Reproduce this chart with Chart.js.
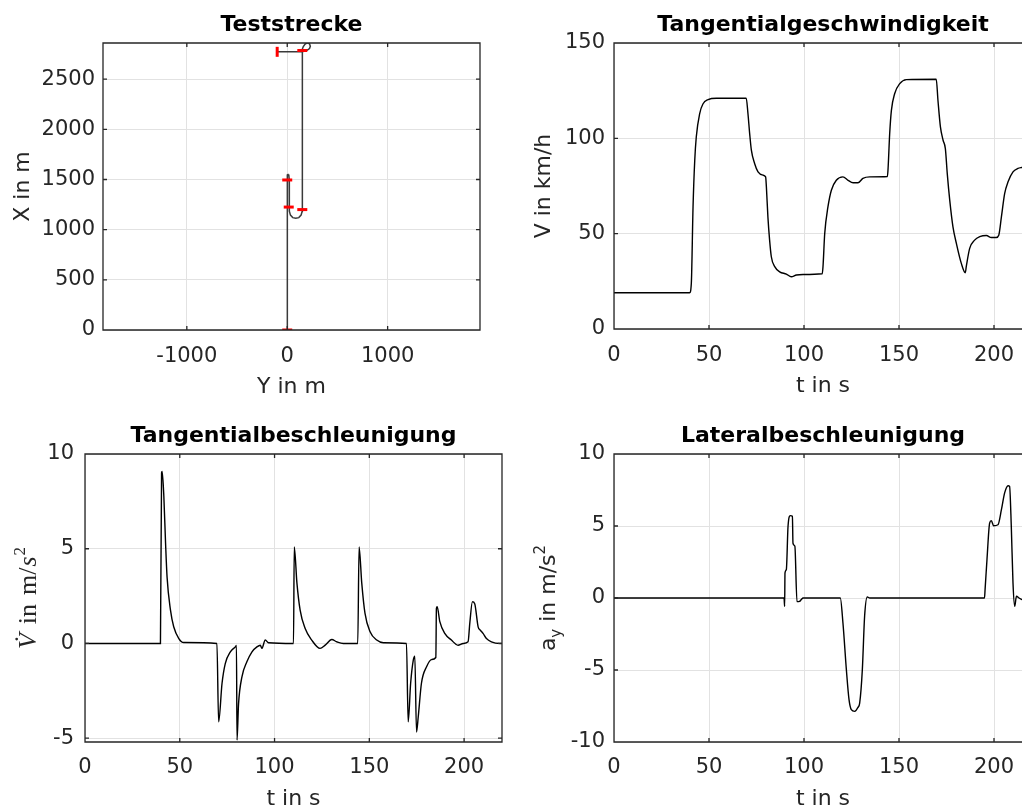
<!DOCTYPE html>
<html>
<head>
<meta charset="utf-8">
<script src="https://cdn.jsdelivr.net/npm/chart.js@4/dist/chart.umd.min.js"></script>
<style>
  html, body { margin: 0; padding: 0; background: #fff; overflow: hidden; }
  #page { position: relative; width: 1022px; height: 812px; overflow: hidden; }
  #page canvas { position: absolute; }
</style>
</head>
<body>
<div id="page">
  <canvas id="trackChart" width="500" height="400" style="left:0;top:0"></canvas>
  <canvas id="speedChart" width="530" height="400" style="left:510px;top:0"></canvas>
  <canvas id="accChart" width="510" height="402" style="left:0;top:410px"></canvas>
  <canvas id="latChart" width="530" height="402" style="left:510px;top:410px"></canvas>
</div>
<script>
// Teststrecke: lateral position Y (horizontal) and longitudinal position X (vertical), in m
const trackY = [0, 0, 2, 8, 16, 20, 20, 22, 32, 55, 85, 115, 138, 148, 150, 150, 152, 160, 178, 200, 222, 230, 222, 200, 175, 150, 100, 0, -100];
const trackX = [0, 1530, 1545, 1550, 1540, 1500, 1230, 1185, 1145, 1120, 1113, 1120, 1145, 1180, 1210, 2770, 2800, 2825, 2850, 2862, 2852, 2828, 2805, 2790, 2780, 2772, 2772, 2772, 2772];
// red section markers along the track
const markerY = [0, 0, 15, 150, 150, -100];
const markerX = [0, 1495, 1225, 1200, 2785, 2772];

const trackYTicks = [-1000, 0, 1000];
const trackXTicks = [0, 500, 1000, 1500, 2000, 2500];
const timeTicks = [0, 50, 100, 150, 200];
const speedTicks = [0, 50, 100, 150];
const accTicks = [-5, 0, 5, 10];
const latTicks = [-10, -5, 0, 5, 10];

// Tangentialgeschwindigkeit in km/h
const speedTime = [0, 39.8, 40.7, 41.6, 42.5, 43.3, 45.1, 46.8, 49.5, 53.9, 69.6, 70.5, 71.4, 72.3, 74, 75.8, 78.4, 79.8, 80.2, 81, 81.9, 82.8, 84.6, 87.2, 90.7, 93.3, 96, 99.5, 109.6, 110, 110.9, 112.6, 114.4, 117, 120.5, 123.2, 125.8, 128.4, 131, 134.6, 143.9, 144.2, 145.1, 146, 147.7, 150.4, 153.9, 169.6, 170.5, 171.8, 173.2, 174.4, 175.4, 176.7, 178.4, 180.2, 182.8, 184.9, 185.4, 187.2, 189.8, 192.5, 196, 198.6, 201.2, 202.5, 203.9, 205.6, 207.4, 210, 212.6, 214.6, 220];
const speedValues = [19, 19, 24, 64, 88.5, 100.7, 113, 118, 120.3, 121, 121, 113, 102.5, 93.8, 86.8, 82.4, 80.7, 79.8, 74.6, 58.8, 46.6, 37.9, 32.7, 30, 28.8, 27.4, 28.3, 28.6, 29, 32.7, 50, 64, 72.8, 78, 79.8, 78, 76.7, 76.7, 79, 79.8, 80, 83.3, 102.5, 114.7, 123.4, 128.7, 130.8, 131, 120, 106, 99, 94.6, 81.5, 67.6, 53.6, 44.9, 34.4, 29.5, 32.7, 42.3, 46.6, 48.4, 49, 48, 48, 49.2, 58.8, 71, 77.2, 82.4, 84.2, 84.7, 85.5];

// Tangentialbeschleunigung in m/s^2
const accTime = [0, 39.8, 40.4, 40.7, 41.6, 42.5, 43.3, 45.1, 46.8, 49.5, 52.1, 69.6, 70.5, 72.3, 74, 76.7, 79.3, 79.9, 80.2, 81, 82.8, 85.4, 88.1, 90.7, 92.5, 93.3, 95.1, 96.8, 110, 110.4, 111.8, 113.5, 116.1, 119.6, 124, 126.7, 130.2, 132.8, 136.3, 143.9, 144.6, 146, 147.7, 150.4, 153.9, 157.4, 169.6, 170.5, 171.8, 173.2, 174, 174.9, 175.8, 177.5, 180.2, 182.8, 185.1, 185.4, 185.8, 187.2, 189.8, 193.3, 196.8, 199.5, 202.1, 203, 204.4, 205.6, 207.4, 208.6, 210, 211.8, 214.4, 218.8, 220];
const accValues = [0, 0, 9.0, 9.08, 7.76, 5.3, 3.5, 1.76, 0.88, 0.26, 0.05, 0, -4.14, -2.1, -1.06, -0.44, -0.18, -0.1, -5.1, -3.2, -1.76, -0.97, -0.44, -0.18, -0.09, -0.26, 0.18, 0.04, 0, 5.1, 3.2, 1.76, 0.8, 0.18, -0.26, -0.09, 0.21, 0.09, 0, 0, 5.1, 3.2, 1.6, 0.62, 0.18, 0.04, 0, -4.14, -2.1, -0.88, -0.67, -4.67, -3.88, -2.1, -1.23, -0.85, -0.74, 1.85, 1.94, 1.15, 0.53, 0.18, -0.09, 0, 0.09, 1.06, 2.2, 2.1, 0.88, 0.7, 0.53, 0.26, 0.09, 0, 0];

// Lateralbeschleunigung in m/s^2
const latTime = [0, 89.5, 89.8, 90, 90.7, 91.6, 92.8, 93.9, 94.2, 95.2, 96.3, 97.7, 98.6, 99.5, 119.1, 120.5, 122.3, 123.7, 124.9, 126.7, 128.4, 129.3, 130.7, 131.9, 133.3, 134.6, 195, 195.3, 196.3, 197.7, 198.6, 199.8, 202.1, 203.9, 205.6, 207.4, 208.2, 209.1, 210, 210.9, 211.8, 213.2, 214.6, 220];
const latValues = [0, 0, -0.58, 1.74, 1.97, 4.98, 5.72, 5.67, 3.8, 3.6, -0.25, -0.23, -0.1, 0, 0, -1.74, -4.98, -7.06, -7.75, -7.87, -7.6, -7.3, -4.98, -1.27, 0.07, 0, 0, 0.58, 2.66, 5.2, 5.37, 5.02, 5.09, 6.13, 7.3, 7.8, 7.75, 4.98, 1.04, -0.58, 0.12, 0, -0.1, 0];

const FONT = 'DejaVu Sans';
const AXIS_COLOR = '#262626';
const GRID_COLOR = '#e2e2e2';

const toPoints = (xs, ys) => xs.map((x, i) => ({ x: x, y: ys[i] }));

// MATLAB style box with small inward ticks on all four sides
const axesBox = {
    id: 'axesBox',
    afterDatasetsDraw(chart) {
        const { ctx, chartArea: a, scales: { x, y } } = chart;
        const len = 4;
        ctx.save();
        ctx.strokeStyle = AXIS_COLOR;
        ctx.lineWidth = 1.3;
        ctx.beginPath();
        ctx.rect(a.left, a.top, a.right - a.left, a.bottom - a.top);
        x.ticks.forEach(t => {
            const p = x.getPixelForValue(t.value);
            ctx.moveTo(p, a.bottom); ctx.lineTo(p, a.bottom - len);
            ctx.moveTo(p, a.top); ctx.lineTo(p, a.top + len);
        });
        y.ticks.forEach(t => {
            const p = y.getPixelForValue(t.value);
            ctx.moveTo(a.left, p); ctx.lineTo(a.left + len, p);
            ctx.moveTo(a.right, p); ctx.lineTo(a.right - len, p);
        });
        ctx.stroke();
        ctx.restore();
    }
};

// y axis label with sub/superscripts, drawn rotated next to the chart area
const richYLabel = (parts, offset) => ({
    id: 'richYLabel',
    afterDraw(chart) {
        const { ctx, chartArea: a } = chart;
        ctx.save();
        ctx.fillStyle = AXIS_COLOR;
        ctx.textBaseline = 'alphabetic';
        let total = 0;
        const widths = parts.map(p => {
            ctx.font = p.font;
            const w = ctx.measureText(p.text).width + (p.gap || 0);
            total += w;
            return w;
        });
        ctx.translate(a.left - offset, (a.top + a.bottom) / 2);
        ctx.rotate(-Math.PI / 2);
        let x = -total / 2;
        parts.forEach((p, i) => {
            ctx.font = p.font;
            ctx.fillText(p.text, x, p.dy || 0);
            x += widths[i];
        });
        ctx.restore();
    }
});

function makeChart(id, o) {
    return new Chart(document.getElementById(id), {
        type: 'line',
        data: { datasets: o.datasets },
        options: {
            responsive: false,
            animation: false,
            events: [],
            layout: { padding: { left: 0, top: 0, right: o.padRight, bottom: 0 } },
            elements: { point: { radius: 0 } },
            plugins: {
                legend: { display: false },
                tooltip: { enabled: false },
                title: {
                    display: true,
                    text: o.title,
                    fullSize: false,
                    color: '#000',
                    font: { family: FONT, size: 22, weight: 'bold' },
                    padding: { top: o.titleTop, bottom: o.titleBottom }
                }
            },
            scales: {
                x: {
                    type: 'linear',
                    min: o.xMin,
                    max: o.xMax,
                    afterBuildTicks: s => { s.ticks = o.xTicks.map(v => ({ value: v })); },
                    afterFit: s => { s.height = o.xHeight; },
                    grid: { color: GRID_COLOR, drawTicks: false },
                    border: { display: false },
                    ticks: {
                        color: AXIS_COLOR,
                        font: { family: FONT, size: 21 },
                        padding: o.xTickPad,
                        maxRotation: 0,
                        callback: v => String(v)
                    },
                    title: {
                        display: true,
                        text: o.xTitle,
                        color: AXIS_COLOR,
                        font: { family: FONT, size: 22 },
                        padding: { top: 0, bottom: o.xTitlePad }
                    }
                },
                y: {
                    type: 'linear',
                    min: o.yMin,
                    max: o.yMax,
                    afterBuildTicks: s => { s.ticks = o.yTicks.map(v => ({ value: v })); },
                    afterFit: s => { s.width = o.yWidth; },
                    grid: { color: GRID_COLOR, drawTicks: false },
                    border: { display: false },
                    ticks: {
                        color: AXIS_COLOR,
                        font: { family: FONT, size: 21 },
                        padding: o.yTickPad,
                        callback: v => String(v)
                    },
                    title: {
                        display: !!o.yTitle,
                        text: o.yTitle || '',
                        color: AXIS_COLOR,
                        font: { family: FONT, size: 22 },
                        padding: { top: o.yTitlePad || 0, bottom: 0 }
                    }
                }
            }
        },
        plugins: o.plugins
    });
}

const curve = (xs, ys) => ({
    data: toPoints(xs, ys),
    borderColor: '#000',
    borderWidth: 1.4,
    cubicInterpolationMode: 'monotone',
    pointRadius: 0
});

makeChart('trackChart', {
    title: 'Teststrecke',
    titleTop: 11.8, titleBottom: 4.8,
    xTitle: 'Y in m', xTitlePad: 0, xHeight: 70, xTickPad: 14,
    yTitle: 'X in m', yTitlePad: 9.8,
    xMin: -1835, xMax: 1920, xTicks: trackYTicks,
    yMin: 0, yMax: 2860, yTicks: trackXTicks,
    yWidth: 103, yTickPad: 8, padRight: 20,
    datasets: [
        {
            data: toPoints(markerY, markerX),
            showLine: false,
            pointStyle: 'line',
            pointRadius: 5,
            pointBorderWidth: 3,
            pointBorderColor: '#ff0000',
            pointRotation: [0, 0, 0, 0, 0, 90]
        },
        {
            data: toPoints(trackY, trackX),
            borderColor: '#3a3a3a',
            borderWidth: 1.5,
            pointRadius: 0
        }
    ],
    plugins: [axesBox]
});

makeChart('speedChart', {
    title: 'Tangentialgeschwindigkeit',
    titleTop: 11.8, titleBottom: 4.8,
    xTitle: 't in s', xTitlePad: 0.8, xHeight: 71, xTickPad: 14,
    yTitle: 'V in km/h', yTitlePad: 20.8,
    xMin: 0, xMax: 220, xTicks: timeTicks,
    yMin: 0, yMax: 150, yTicks: speedTicks,
    yWidth: 104, yTickPad: 9, padRight: 8,
    datasets: [curve(speedTime, speedValues)],
    plugins: [axesBox]
});

makeChart('accChart', {
    title: 'Tangentialbeschleunigung',
    titleTop: 12.8, titleBottom: 4.8,
    xTitle: 't in s', xTitlePad: 0, xHeight: 70, xTickPad: 13,
    xMin: 0, xMax: 220, xTicks: timeTicks,
    yMin: -5.2, yMax: 10, yTicks: accTicks,
    yWidth: 85, yTickPad: 11, padRight: 8,
    datasets: [curve(accTime, accValues)],
    plugins: [axesBox, richYLabel([
        { text: 'V\u0307', font: 'italic 26px "Liberation Serif"', gap: 9 },
        { text: 'in', font: '26px "Liberation Serif"', gap: 9 },
        { text: 'm/', font: '26px "Liberation Serif"', gap: 1 },
        { text: 's', font: 'italic 26px "Liberation Serif"', gap: 1 },
        { text: '2', font: '17px "Liberation Serif"', dy: -11 }
    ], 49)]
});

makeChart('latChart', {
    title: 'Lateralbeschleunigung',
    titleTop: 12.8, titleBottom: 4.8,
    xTitle: 't in s', xTitlePad: 0, xHeight: 70, xTickPad: 13,
    xMin: 0, xMax: 220, xTicks: timeTicks,
    yMin: -10, yMax: 10, yTicks: latTicks,
    yWidth: 104, yTickPad: 9, padRight: 8,
    datasets: [curve(latTime, latValues)],
    plugins: [axesBox, richYLabel([
        { text: 'a', font: '22px "DejaVu Sans"' },
        { text: 'y', font: '15px "DejaVu Sans"', dy: 6 },
        { text: ' in m/s', font: '22px "DejaVu Sans"' },
        { text: '2', font: '15px "DejaVu Sans"', dy: -10 }
    ], 59)]
});
</script>
</body>
</html>
